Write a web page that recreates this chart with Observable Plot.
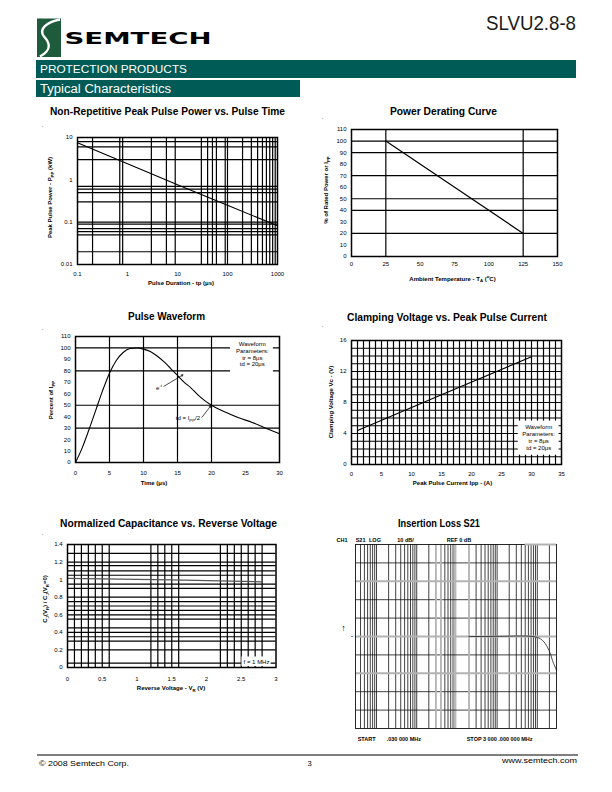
<!DOCTYPE html>
<html><head><meta charset="utf-8">
<script src="https://cdn.jsdelivr.net/npm/d3@7"></script>
<script src="https://cdn.jsdelivr.net/npm/@observablehq/plot@0.6"></script>
<style>
html,body{margin:0;padding:0;background:#fff;}
#page{position:relative;width:612px;height:792px;overflow:hidden;background:#fff;}
</style></head>
<body><div id="page"></div>
<script>
// ---------------- DATA ----------------
// Chart 1: Non-Repetitive Peak Pulse Power vs. Pulse Time
const ppTime = [0.1, 1, 10, 100, 1000];
const ppPower = [7.5, 2.4, 0.77, 0.25, 0.082];
const ppTimeTicks = [0.1, 1, 10, 100, 1000];
const ppPowerTicks = [0.01, 0.1, 1, 10];
const ppTimeGrid = [0.2, 0.7, 0.8, 3, 6, 9, 30, 40, 50, 60, 90, 100, 200, 300, 400, 500, 600, 700, 800, 900];
const ppPowerGrid = [8, 6, 3, 0.7, 0.6, 0.5, 0.3, 0.1, 0.09, 0.07, 0.06, 0.05, 0.02];

// Chart 2: Power Derating Curve
const derTemp = [25, 125];
const derPct = [100, 20];
const derTempTicks = [0, 25, 50, 75, 100, 125, 150];
const derPctTicks = [0, 10, 20, 30, 40, 50, 60, 70, 80, 90, 100, 110];
const derTempGrid = [25, 125];
const derPctGrid = [20, 40, 50, 70, 90, 100];

// Chart 3: Pulse Waveform
const waveT = [0, 1, 2, 3, 4, 5, 6, 7, 8, 9, 10, 11, 12, 13, 14, 15, 16, 17, 18, 19, 20, 22, 24, 26, 28, 30];
const waveV = [0, 13, 29, 46, 63, 78, 89, 96, 99.5, 100, 99, 97, 93, 88, 82, 76, 70, 65, 59, 54, 50, 44, 39, 35, 30, 25];
const waveTTicks = [0, 5, 10, 15, 20, 25, 30];
const waveVTicks = [0, 10, 20, 30, 40, 50, 60, 70, 80, 90, 100, 110];
const waveTGrid = [5, 10, 15, 20];
const waveVGrid = [30, 50, 80, 100];
const waveBoxX = [22.8, 29.1], waveBoxY = [78.5, 108];
const waveBoxText = "Waveform\nParameters:\ntr = 8μs\ntd = 20μs";
const waveBoxAt = [26.0, 94.5];
const waveArrows = [ {x1: 13.0, y1: 66.5, x2: 15.8, y2: 76.5}, {x1: 18.6, y1: 39.5, x2: 19.9, y2: 49.5} ];
const waveEAt = [11.9, 65];     // "e^-t" label
const waveTdAt = [18.4, 38.3];  // "td = IPP/2" label

// Chart 4: Clamping Voltage vs. Peak Pulse Current
const clampI = [1, 15, 30];
const clampV = [4.4, 9.0, 13.9];
const clampITicks = [0, 5, 10, 15, 20, 25, 30, 35];
const clampVTicks = [0, 4, 8, 12, 16];
const clampBoxX = [27.8, 34.6], clampBoxY = [1.2, 5.6];
const clampBoxText = "Waveform\nParameters:\ntr = 8μs\ntd = 20μs";
const clampBoxAt = [31.2, 3.5];

// Chart 5: Normalized Capacitance vs. Reverse Voltage
const capV = [0, 1.5, 2.8];
const capC = [1.015, 0.997, 0.975];
const capVTicks = [0, 0.5, 1, 1.5, 2, 2.5, 3];
const capCTicks = [0, 0.2, 0.4, 0.6, 0.8, 1, 1.2, 1.4];
const capVGrid = [0.1, 0.2, 0.3, 0.4, 0.5, 0.6, 1.2, 1.3, 1.4, 1.5, 1.6, 2.2, 2.3, 2.4, 2.5, 2.6, 2.7, 2.8];
const capCGrid = [1.3, 1.2, 1.16, 1.1, 1.05, 0.95, 0.9, 0.8, 0.75, 0.7, 0.65, 0.6, 0.55, 0.45, 0.4, 0.35, 0.3, 0.2, 0.05];
const capBoxX = [2.51, 2.93], capBoxY = [0.012, 0.12];
const capBoxText = "f = 1 MHz";
const capBoxAt = [2.72, 0.066];

// Chart 6: Insertion Loss S21
const ilFreq = [20, 50, 100, 200, 300, 500, 700, 1000, 1200, 1470, 1700, 1960, 2200, 2380, 2700, 3000];
const ilDb   = [0, 0, 0.1, 0.2, 0.3, 0.3, 0.1, -0.5, -1.3, -3, -5, -7.6, -10.5, -13, -16, -18.5];
const ilGridBlack = [0.04, 0.05, 0.06, 0.07, 0.08, 0.09, 0.1, 0.2, 0.3, 0.4, 0.5, 0.6, 0.7, 0.8, 0.9, 1, 2, 5, 6, 7, 8,
  30, 40, 50, 60, 70, 80, 90, 100, 200, 300, 400, 500, 600, 700, 800, 900, 1000, 2000];
const ilGridGray = [3, 4, 20];
const ilBand = [{x1: 8.7, x2: 10}];
const ilDbBlack = [40, 20, 10, -10, -30, -40];
const ilDbGray = [30, 0, -20];
const ilTopGray = [{x1: 500, x2: 3000, y: 50}];

// ---------------- STYLE ----------------
const SANS = "'Liberation Sans', Arial, Helvetica, sans-serif";
const NARROW = "'Liberation Sans Narrow', 'Arial Narrow', 'Liberation Sans', sans-serif";
const INK = "#000";
const GW = 1.2, FW = 1.5;
const style = {fontFamily: SANS, fontSize: "6px", background: "transparent", overflow: "visible", color: "#000"};
const page = document.getElementById("page");
function place(svg, left, top) {
  svg.style.position = "absolute"; svg.style.left = left + "px"; svg.style.top = top + "px";
  svg.style.maxWidth = "none";
  page.appendChild(svg); return svg;
}
const fmt = d => String(+(+d).toFixed(2));

// ---------------- CHART 1 ----------------
const c1 = place(Plot.plot({
  width: 255, height: 175, marginLeft: 47, marginRight: 8, marginTop: 17, marginBottom: 31, style,
  x: {type: "log", domain: [0.1, 1000], ticks: ppTimeTicks, tickFormat: fmt, tickSize: 0, tickPadding: 7, label: null},
  y: {type: "log", domain: [0.01, 10], ticks: ppPowerTicks, tickFormat: fmt, tickSize: 0, tickPadding: 5, label: null},
  marks: [
    Plot.ruleX(ppTimeGrid, {stroke: INK, strokeWidth: GW}),
    Plot.ruleY(ppPowerGrid, {stroke: INK, strokeWidth: GW}),
    Plot.line(ppTime, {x: ppTime, y: ppPower, stroke: INK, strokeWidth: 1.1}),
    Plot.frame({stroke: INK, strokeWidth: FW})
  ]
}), 30, 120);

// ---------------- CHART 2 ----------------
const c2 = place(Plot.plot({
  width: 260, height: 175, marginLeft: 41, marginRight: 13, marginTop: 14, marginBottom: 34, style,
  x: {domain: [0, 150], ticks: derTempTicks, tickFormat: fmt, tickSize: 0, tickPadding: 5, label: null},
  y: {domain: [0, 110], ticks: derPctTicks, tickFormat: fmt, tickSize: 0, tickPadding: 5, label: null},
  marks: [
    Plot.ruleX(derTempGrid, {stroke: INK, strokeWidth: GW}),
    Plot.ruleY(derPctGrid, {stroke: INK, strokeWidth: GW}),
    Plot.line(derTemp, {x: derTemp, y: derPct, stroke: INK, strokeWidth: 1.2}),
    Plot.frame({stroke: INK, strokeWidth: FW})
  ]
}), 310, 115);

// ---------------- CHART 3 ----------------
const c3 = place(Plot.plot({
  width: 260, height: 180, marginLeft: 45, marginRight: 11, marginTop: 16, marginBottom: 38, style,
  x: {domain: [0, 30], ticks: waveTTicks, tickFormat: fmt, tickSize: 0, tickPadding: 8.5, label: null},
  y: {domain: [0, 110], ticks: waveVTicks, tickFormat: fmt, tickSize: 0, tickPadding: 5, label: null},
  marks: [
    Plot.ruleX(waveTGrid, {stroke: INK, strokeWidth: GW}),
    Plot.ruleY(waveVGrid, {stroke: INK, strokeWidth: GW}),
    Plot.line(waveT, {x: waveT, y: waveV, stroke: INK, strokeWidth: 1.1, curve: "monotone-x"}),
    Plot.rect([0], {x1: [waveBoxX[0]], x2: [waveBoxX[1]], y1: [waveBoxY[0]], y2: [waveBoxY[1]], fill: "white"}),
    Plot.text([waveBoxText], {x: [waveBoxAt[0]], y: [waveBoxAt[1]], text: d => d, fontSize: 6, lineHeight: 1.12, fill: INK}),
    Plot.arrow(waveArrows, {x1: "x1", y1: "y1", x2: "x2", y2: "y2", stroke: INK, strokeWidth: 0.7, headLength: 4}),
    Plot.frame({stroke: INK, strokeWidth: FW})
  ]
}), 30, 320);

// ---------------- CHART 4 ----------------
const c4 = place(Plot.plot({
  width: 260, height: 180, marginLeft: 41, marginRight: 9, marginTop: 20, marginBottom: 36, style,
  x: {domain: [0, 35], ticks: clampITicks, tickFormat: fmt, tickSize: 0, tickPadding: 7.5, label: null},
  y: {domain: [0, 16], ticks: clampVTicks, tickFormat: fmt, tickSize: 0, tickPadding: 5, label: null},
  marks: [
    Plot.ruleX(d3.range(1, 35), {stroke: INK, strokeWidth: GW}),
    Plot.ruleY(d3.range(1, 16), {stroke: INK, strokeWidth: GW}),
    Plot.line(clampI, {x: clampI, y: clampV, stroke: INK, strokeWidth: 1.1}),
    Plot.rect([0], {x1: [clampBoxX[0]], x2: [clampBoxX[1]], y1: [clampBoxY[0]], y2: [clampBoxY[1]], fill: "white"}),
    Plot.text([clampBoxText], {x: [clampBoxAt[0]], y: [clampBoxAt[1]], text: d => d, fontSize: 6, lineHeight: 1.12, fill: INK}),
    Plot.frame({stroke: INK, strokeWidth: FW})
  ]
}), 310, 320);

// ---------------- CHART 5 ----------------
const c5 = place(Plot.plot({
  width: 260, height: 180, marginLeft: 37, marginRight: 14.5, marginTop: 19, marginBottom: 38, style,
  x: {domain: [0, 3], ticks: capVTicks, tickFormat: fmt, tickSize: 0, tickPadding: 9, label: null},
  y: {domain: [0, 1.4], ticks: capCTicks, tickFormat: fmt, tickSize: 0, tickPadding: 5, label: null},
  marks: [
    Plot.ruleX(capVGrid, {stroke: INK, strokeWidth: GW}),
    Plot.ruleY(capCGrid, {stroke: INK, strokeWidth: GW}),
    Plot.line(capV, {x: capV, y: capC, stroke: "#555", strokeWidth: 1.3}),
    Plot.rect([0], {x1: [capBoxX[0]], x2: [capBoxX[1]], y1: [capBoxY[0]], y2: [capBoxY[1]], fill: "white"}),
    Plot.text([capBoxText], {x: [capBoxAt[0]], y: [capBoxAt[1]], text: d => d, fontSize: 6, fill: INK}),
    Plot.frame({stroke: INK, strokeWidth: FW})
  ]
}), 30, 525);

// ---------------- CHART 6 ----------------
const c6 = place(Plot.plot({
  width: 260, height: 220, marginLeft: 45, marginRight: 14, marginTop: 19, marginBottom: 17, style,
  x: {type: "log", domain: [0.03, 3000], axis: null},
  y: {domain: [-50, 50], axis: null},
  marks: [
    Plot.rect(ilBand, {x1: "x1", x2: "x2", fill: "#b9b9b9"}),
    Plot.ruleX(ilGridBlack, {stroke: "#111", strokeWidth: 0.8}),
    Plot.ruleY(ilDbBlack, {stroke: "#111", strokeWidth: 0.8}),
    Plot.ruleX(ilGridGray, {stroke: "#b3b3b3", strokeWidth: 1.8}),
    Plot.ruleY(ilDbGray, {stroke: "#b3b3b3", strokeWidth: 2}),
    Plot.frame({stroke: "#111", strokeWidth: 0.9}),
    Plot.ruleY(ilTopGray, {x1: "x1", x2: "x2", y: "y", stroke: "#b3b3b3", strokeWidth: 2}),
    Plot.line(ilFreq, {x: ilFreq, y: ilDb, stroke: "#222", strokeWidth: 0.8, curve: "monotone-x"})
  ]
}), 310, 525);

// ---------------- OVERLAY TEXT ----------------
const ov = d3.select(page).append("svg")
  .attr("width", 612).attr("height", 792)
  .style("position", "absolute").style("left", "0px").style("top", "0px").style("pointer-events", "none");

function txt(x, y, parts, o = {}) {
  const size = o.size ?? 6;
  const t = ov.append("text")
    .attr("transform", `translate(${x},${y})${o.rotate ? ` rotate(${o.rotate})` : ""}`)
    .attr("y", o.baseline ? 0 : (0.35 * size).toFixed(2))
    .attr("text-anchor", o.anchor ?? "middle")
    .attr("font-size", size).attr("font-weight", o.weight ?? "bold")
    .attr("font-family", o.family ?? SANS).attr("fill", o.fill ?? "#000");
  if (o.len) t.attr("textLength", o.len).attr("lengthAdjust", "spacingAndGlyphs");
  if (typeof parts === "string") parts = [parts];
  let shift = 0;
  for (const p of parts) {
    if (typeof p === "string") {
      const s = t.append("tspan").text(p);
      if (shift) { s.attr("dy", -shift); shift = 0; }
    } else {
      const [str, kind] = p;
      const d = kind === "sub" ? size * 0.3 : -size * 0.45;
      t.append("tspan").attr("font-size", size * 0.72).attr("dy", d - shift).text(str);
      shift = d;
    }
  }
  return t;
}

// Header
ov.append("rect").attr("x", 37).attr("y", 18.5).attr("width", 24).attr("height", 38.5).attr("fill", "#1d5b3b");
ov.append("path").attr("d", "M60 19.5 C47 22, 38 29, 44 36.5 C50 43, 52 50, 40 56.5")
  .attr("fill", "none").attr("stroke", "#fff").attr("stroke-width", 2.4);
txt(64.5, 43.5, "SEMTECH", {size: 16.5, weight: 900, anchor: "start", baseline: true, len: 147, family: "'DejaVu Sans', " + SANS});
txt(576, 30, "SLVU2.8-8", {size: 20.5, weight: "normal", anchor: "end", baseline: true, len: 90, family: NARROW, fill: "#1a1a1a"});
ov.append("rect").attr("x", 36).attr("y", 60).attr("width", 540).attr("height", 18).attr("fill", "#005a55");
ov.append("rect").attr("x", 36).attr("y", 80).attr("width", 264).attr("height", 17).attr("fill", "#005a55");
txt(40, 73.4, "PROTECTION PRODUCTS", {size: 11.5, weight: "normal", anchor: "start", baseline: true, len: 147, fill: "#fff"});
txt(40, 93.2, "Typical Characteristics", {size: 12.5, weight: "normal", anchor: "start", baseline: true, len: 131, fill: "#fff"});

// Titles
const TS = 10.5;
txt(167.5, 111, "Non-Repetitive Peak Pulse Power vs. Pulse Time", {size: TS, family: NARROW, len: 235});
txt(443.5, 111, "Power Derating Curve", {size: TS, family: NARROW, len: 107});
txt(166.5, 316.5, "Pulse Waveform", {size: TS, family: NARROW, len: 77});
txt(447, 317, "Clamping Voltage vs. Peak Pulse Current", {size: TS, family: NARROW, len: 200});
txt(168.5, 523, "Normalized Capacitance vs. Reverse Voltage", {size: TS, family: NARROW, len: 217});
txt(439, 523, "Insertion Loss S21", {size: TS, family: NARROW, len: 82});

// Axis labels
txt(181, 282.5, "Pulse Duration - tp (μs)");
txt(50, 197.5, ["Peak Pulse Power - P", ["PP", "sub"], " (kW)"], {rotate: -90});
txt(452.5, 278.5, ["Ambient Temperature - T", ["A", "sub"], " (", ["o", "sup"], "C)"]);
txt(326, 190, ["% of Rated Power or I", ["PP", "sub"]], {rotate: -90});
txt(154, 483, "Time (μs)");
txt(50.7, 400, ["Percent of I", ["PP", "sub"]], {rotate: -90});
txt(452.5, 482.7, "Peak Pulse Current Ipp - (A)");
txt(330.7, 402, "Clamping Voltage Vc - (V)", {rotate: -90});
txt(171, 688, ["Reverse Voltage - V", ["R", "sub"], " (V)"]);
txt(45, 599, ["C", ["J", "sub"], "(V", ["R", "sub"], ") / C", ["J", "sub"], "(V", ["R", "sub"], "=0)"], {rotate: -90});

// Chart 3 annotations positioned with the plot's own scales
{
  const sx = c3.scale("x"), sy = c3.scale("y");
  txt(30 + sx.apply(waveEAt[0]), 320 + sy.apply(waveEAt[1]), ["e", ["-t", "sup"]], {weight: "normal", anchor: "start"});
  txt(30 + sx.apply(waveTdAt[0]), 320 + sy.apply(waveTdAt[1]), ["td = I", ["PP", "sub"], "/2"], {weight: "normal", anchor: "end"});
}

// Chart 6 texts
const IS = 5.5;
txt(336.5, 540, "CH1", {size: IS, anchor: "start"});
txt(355.7, 540, "S21", {size: IS, anchor: "start"});
txt(369, 540, "LOG", {size: IS, anchor: "start"});
txt(397.3, 540, "10 dB/", {size: IS, anchor: "start"});
txt(446.7, 540, "REF 0 dB", {size: IS, anchor: "start"});
txt(357.7, 739.5, "START", {size: IS, anchor: "start"});
txt(386.7, 739.5, ".030  000  MHz", {size: IS, anchor: "start"});
txt(466.7, 739.5, "STOP  3 000 .000 000 MHz", {size: IS, anchor: "start"});
txt(343.5, 628, "↑", {size: 9, weight: "bold"});
txt(352, 636, "-", {size: 6, weight: "bold"});

// small stray dots
for (const [x, y] of [[42.7, 127], [322.7, 119], [42.7, 330], [322.7, 326.5], [42.7, 535]]) txt(x, y, ".", {size: 6, weight: "normal", baseline: true});

// Footer
ov.append("line").attr("x1", 37).attr("x2", 578).attr("y1", 755).attr("y2", 755).attr("stroke", "#000").attr("stroke-width", 1);
txt(39, 766, "© 2008 Semtech Corp.", {size: 7.5, weight: "normal", anchor: "start", baseline: true, len: 90});
txt(309.5, 766, "3", {size: 7.5, weight: "normal", baseline: true});
txt(577, 763.3, "www.semtech.com", {size: 7.5, weight: "normal", anchor: "end", baseline: true, len: 75});
</script>
</body></html>
